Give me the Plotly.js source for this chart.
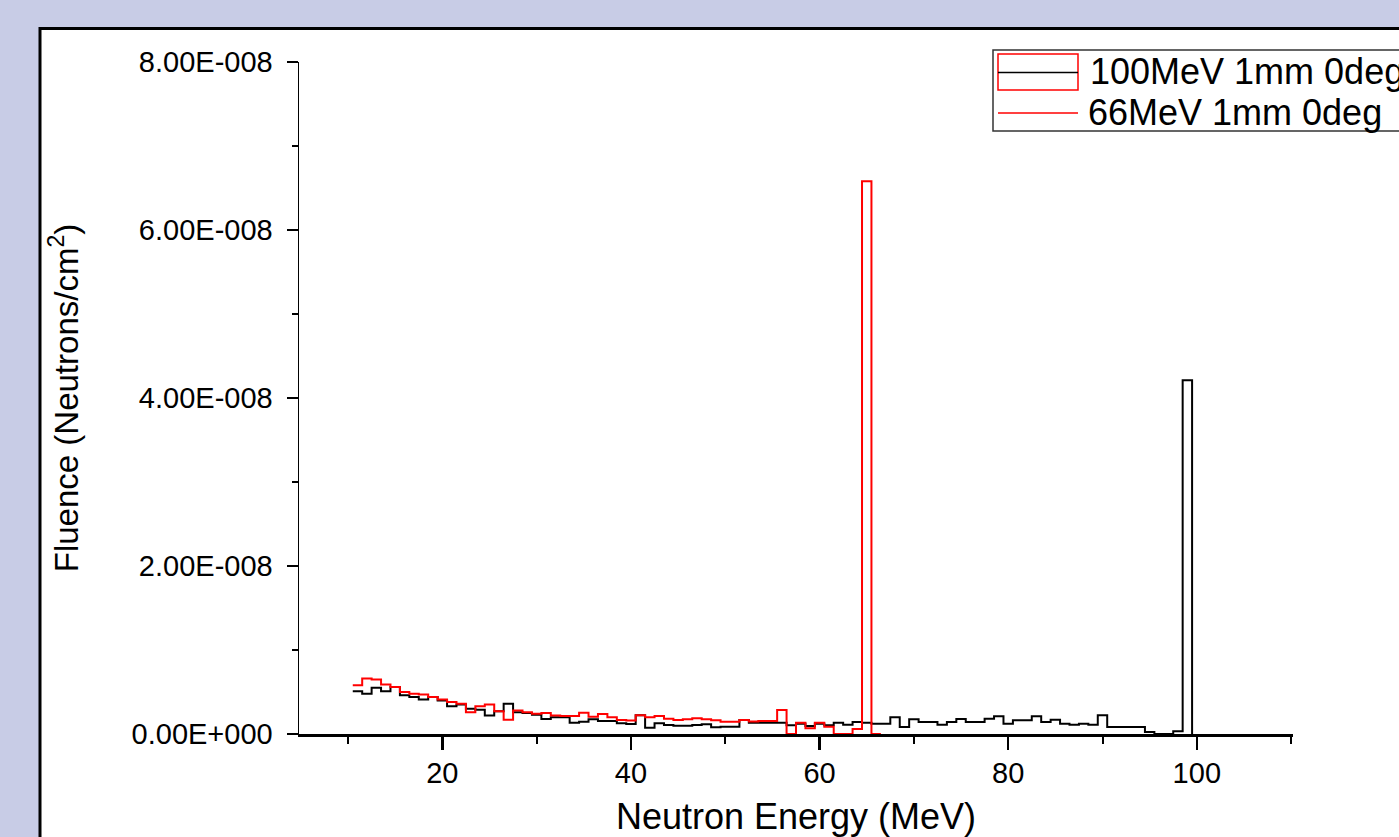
<!DOCTYPE html>
<html><head><meta charset="utf-8">
<script src="https://cdn.plot.ly/plotly-3.0.1.min.js"></script>
<style>html,body{margin:0;padding:0;background:#c8cce6;}#chart{width:1399px;height:837px;}</style>
</head><body><div id="chart"></div>
<script>
// values in units of 1e-8 Neutrons/cm^2, one per 1 MeV bin (bin centres)
const SCALE = 1e-8;
const binCenters100 = [11,12,13,14,15,16,17,18,19,20,21,22,23,24,25,26,27,28,29,30,31,32,33,34,35,36,37,38,39,40,41,42,43,44,45,46,47,48,49,50,51,52,53,54,55,56,57,58,59,60,61,62,63,64,65,66,67,68,69,70,71,72,73,74,75,76,77,78,79,80,81,82,83,84,85,86,87,88,89,90,91,92,93,94,95,96,97,98,99];
const fluence100 = [0.51,0.48,0.55,0.51,0.56,0.46,0.44,0.41,0.44,0.40,0.33,0.35,0.30,0.29,0.22,0.27,0.36,0.26,0.25,0.23,0.18,0.20,0.20,0.135,0.147,0.175,0.155,0.155,0.127,0.119,0.222,0.075,0.127,0.107,0.099,0.099,0.107,0.115,0.079,0.087,0.087,0.167,0.135,0.135,0.135,0.135,0.103,0.123,0.095,0.123,0.103,0.135,0.111,0.143,0.135,0.123,0.123,0.20,0.083,0.175,0.143,0.143,0.111,0.143,0.178,0.143,0.143,0.183,0.21,0.123,0.163,0.163,0.21,0.143,0.17,0.123,0.111,0.123,0.111,0.222,0.083,0.083,0.083,0.083,0.024,0,0,0.032,4.21];
const binCenters66 = [11,12,13,14,15,16,17,18,19,20,21,22,23,24,25,26,27,28,29,30,31,32,33,34,35,36,37,38,39,40,41,42,43,44,45,46,47,48,49,50,51,52,53,54,55,56,57,58,59,60,61,62,63,64,65,66];
const fluence66 = [0.58,0.66,0.65,0.59,0.56,0.50,0.48,0.47,0.44,0.41,0.38,0.36,0.26,0.33,0.35,0.27,0.17,0.28,0.26,0.24,0.25,0.22,0.214,0.214,0.254,0.206,0.238,0.198,0.167,0.16,0.222,0.198,0.214,0.183,0.167,0.175,0.187,0.175,0.163,0.147,0.147,0.167,0.15,0.155,0.155,0.286,0,0.135,0.067,0.135,0.087,0,0,0.06,6.58,0];
const seriesNames = ['100MeV 1mm 0deg','66MeV 1mm 0deg'];
const yTickVals = [0,2,4,6,8];
const yTickText = ['0.00E+000','2.00E-008','4.00E-008','6.00E-008','8.00E-008'];

function steps(centers, vals){
  const x=[], y=[];
  centers.forEach((c,i)=>{ x.push(c-0.5); y.push(vals[i]*SCALE); });
  const last = centers[centers.length-1]+0.5;
  x.push(last); y.push(vals[vals.length-1]*SCALE);
  x.push(last); y.push(0);
  return {x,y};
}
const s100 = steps(binCenters100, fluence100);
const s66 = steps(binCenters66, fluence66);

const W=1399,H=837, L=299, R=106, T=62, B=103;
const pw=W-L-R, ph=H-T-B;
const px=(v)=>(v-L)/pw, py=(v)=>(H-B-v)/ph;

const font='Arial, "Liberation Sans", sans-serif';
const traces=[
  {x:s100.x,y:s100.y,type:'scatter',mode:'lines',line:{shape:'hv',color:'#000000',width:2},name:seriesNames[0],showlegend:false,hoverinfo:'skip'},
  {x:s66.x,y:s66.y,type:'scatter',mode:'lines',line:{shape:'hv',color:'#ff0000',width:2},name:seriesNames[1],showlegend:false,hoverinfo:'skip'}
];
const shapes=[
  {type:'rect',xref:'paper',yref:'paper',x0:px(40),x1:px(1430),y0:py(28.5),y1:py(900),fillcolor:'#ffffff',line:{color:'#000000',width:3},layer:'below'},
  {type:'rect',xref:'paper',yref:'paper',x0:px(993),x1:px(1430),y0:py(50),y1:py(131),fillcolor:'#ffffff',line:{color:'#333333',width:1.5}},
  {type:'rect',xref:'paper',yref:'paper',x0:px(998),x1:px(1078),y0:py(54),y1:py(90),fillcolor:'rgba(0,0,0,0)',line:{color:'#ff0000',width:1.5}},
  {type:'line',xref:'paper',yref:'paper',x0:px(998),x1:px(1078),y0:py(72.5),y1:py(72.5),line:{color:'#000000',width:1.5}},
  {type:'line',xref:'paper',yref:'paper',x0:px(998),x1:px(1078),y0:py(113),y1:py(113),line:{color:'#ff0000',width:1.5}}
];
const annotations=[
  {xref:'paper',yref:'paper',x:px(1088),y:py(72),xanchor:'left',yanchor:'middle',text:seriesNames[0],showarrow:false,font:{family:font,size:36,color:'#000'}},
  {xref:'paper',yref:'paper',x:px(1086),y:py(113),xanchor:'left',yanchor:'middle',text:seriesNames[1],showarrow:false,font:{family:font,size:36,color:'#000'}}
];
const layout={
  width:W,height:H,margin:{l:L,r:R,t:T,b:B,pad:0},
  paper_bgcolor:'#c8cce6',plot_bgcolor:'#ffffff',
  font:{family:font,color:'#000'},
  showlegend:false,
  xaxis:{range:[4.8,110.2],tickmode:'linear',tick0:0,dtick:20,showline:true,linecolor:'#000',linewidth:3,
    ticks:'outside',ticklen:13,tickwidth:2.5,tickcolor:'#000',showgrid:false,zeroline:false,
    minor:{tickmode:'linear',tick0:0,dtick:10,ticks:'outside',ticklen:7,tickwidth:2,tickcolor:'#000',showgrid:false},
    tickfont:{size:29,family:font},ticklabelstandoff:-2,automargin:false,
    title:{text:'Neutron Energy (MeV)',font:{size:36,family:font},standoff:20}},
  yaxis:{range:[0,8*SCALE],tickmode:'array',tickvals:yTickVals.map(v=>v*SCALE),ticktext:yTickText,showline:true,linecolor:'#000',linewidth:1.5,
    ticks:'outside',ticklen:11,tickwidth:2,tickcolor:'#000',showgrid:false,zeroline:false,
    minor:{tickmode:'linear',tick0:0,dtick:SCALE,ticks:'outside',ticklen:6,tickwidth:1.5,tickcolor:'#000',showgrid:false},
    tickfont:{size:29,family:font},ticklabelstandoff:8,automargin:false,
    title:{text:'Fluence (Neutrons/cm<sup>2</sup>)',font:{size:33,family:font},standoff:43}},
  shapes:shapes,annotations:annotations
};
Plotly.newPlot('chart',traces,layout,{displayModeBar:false,staticPlot:true});
</script></body></html>
